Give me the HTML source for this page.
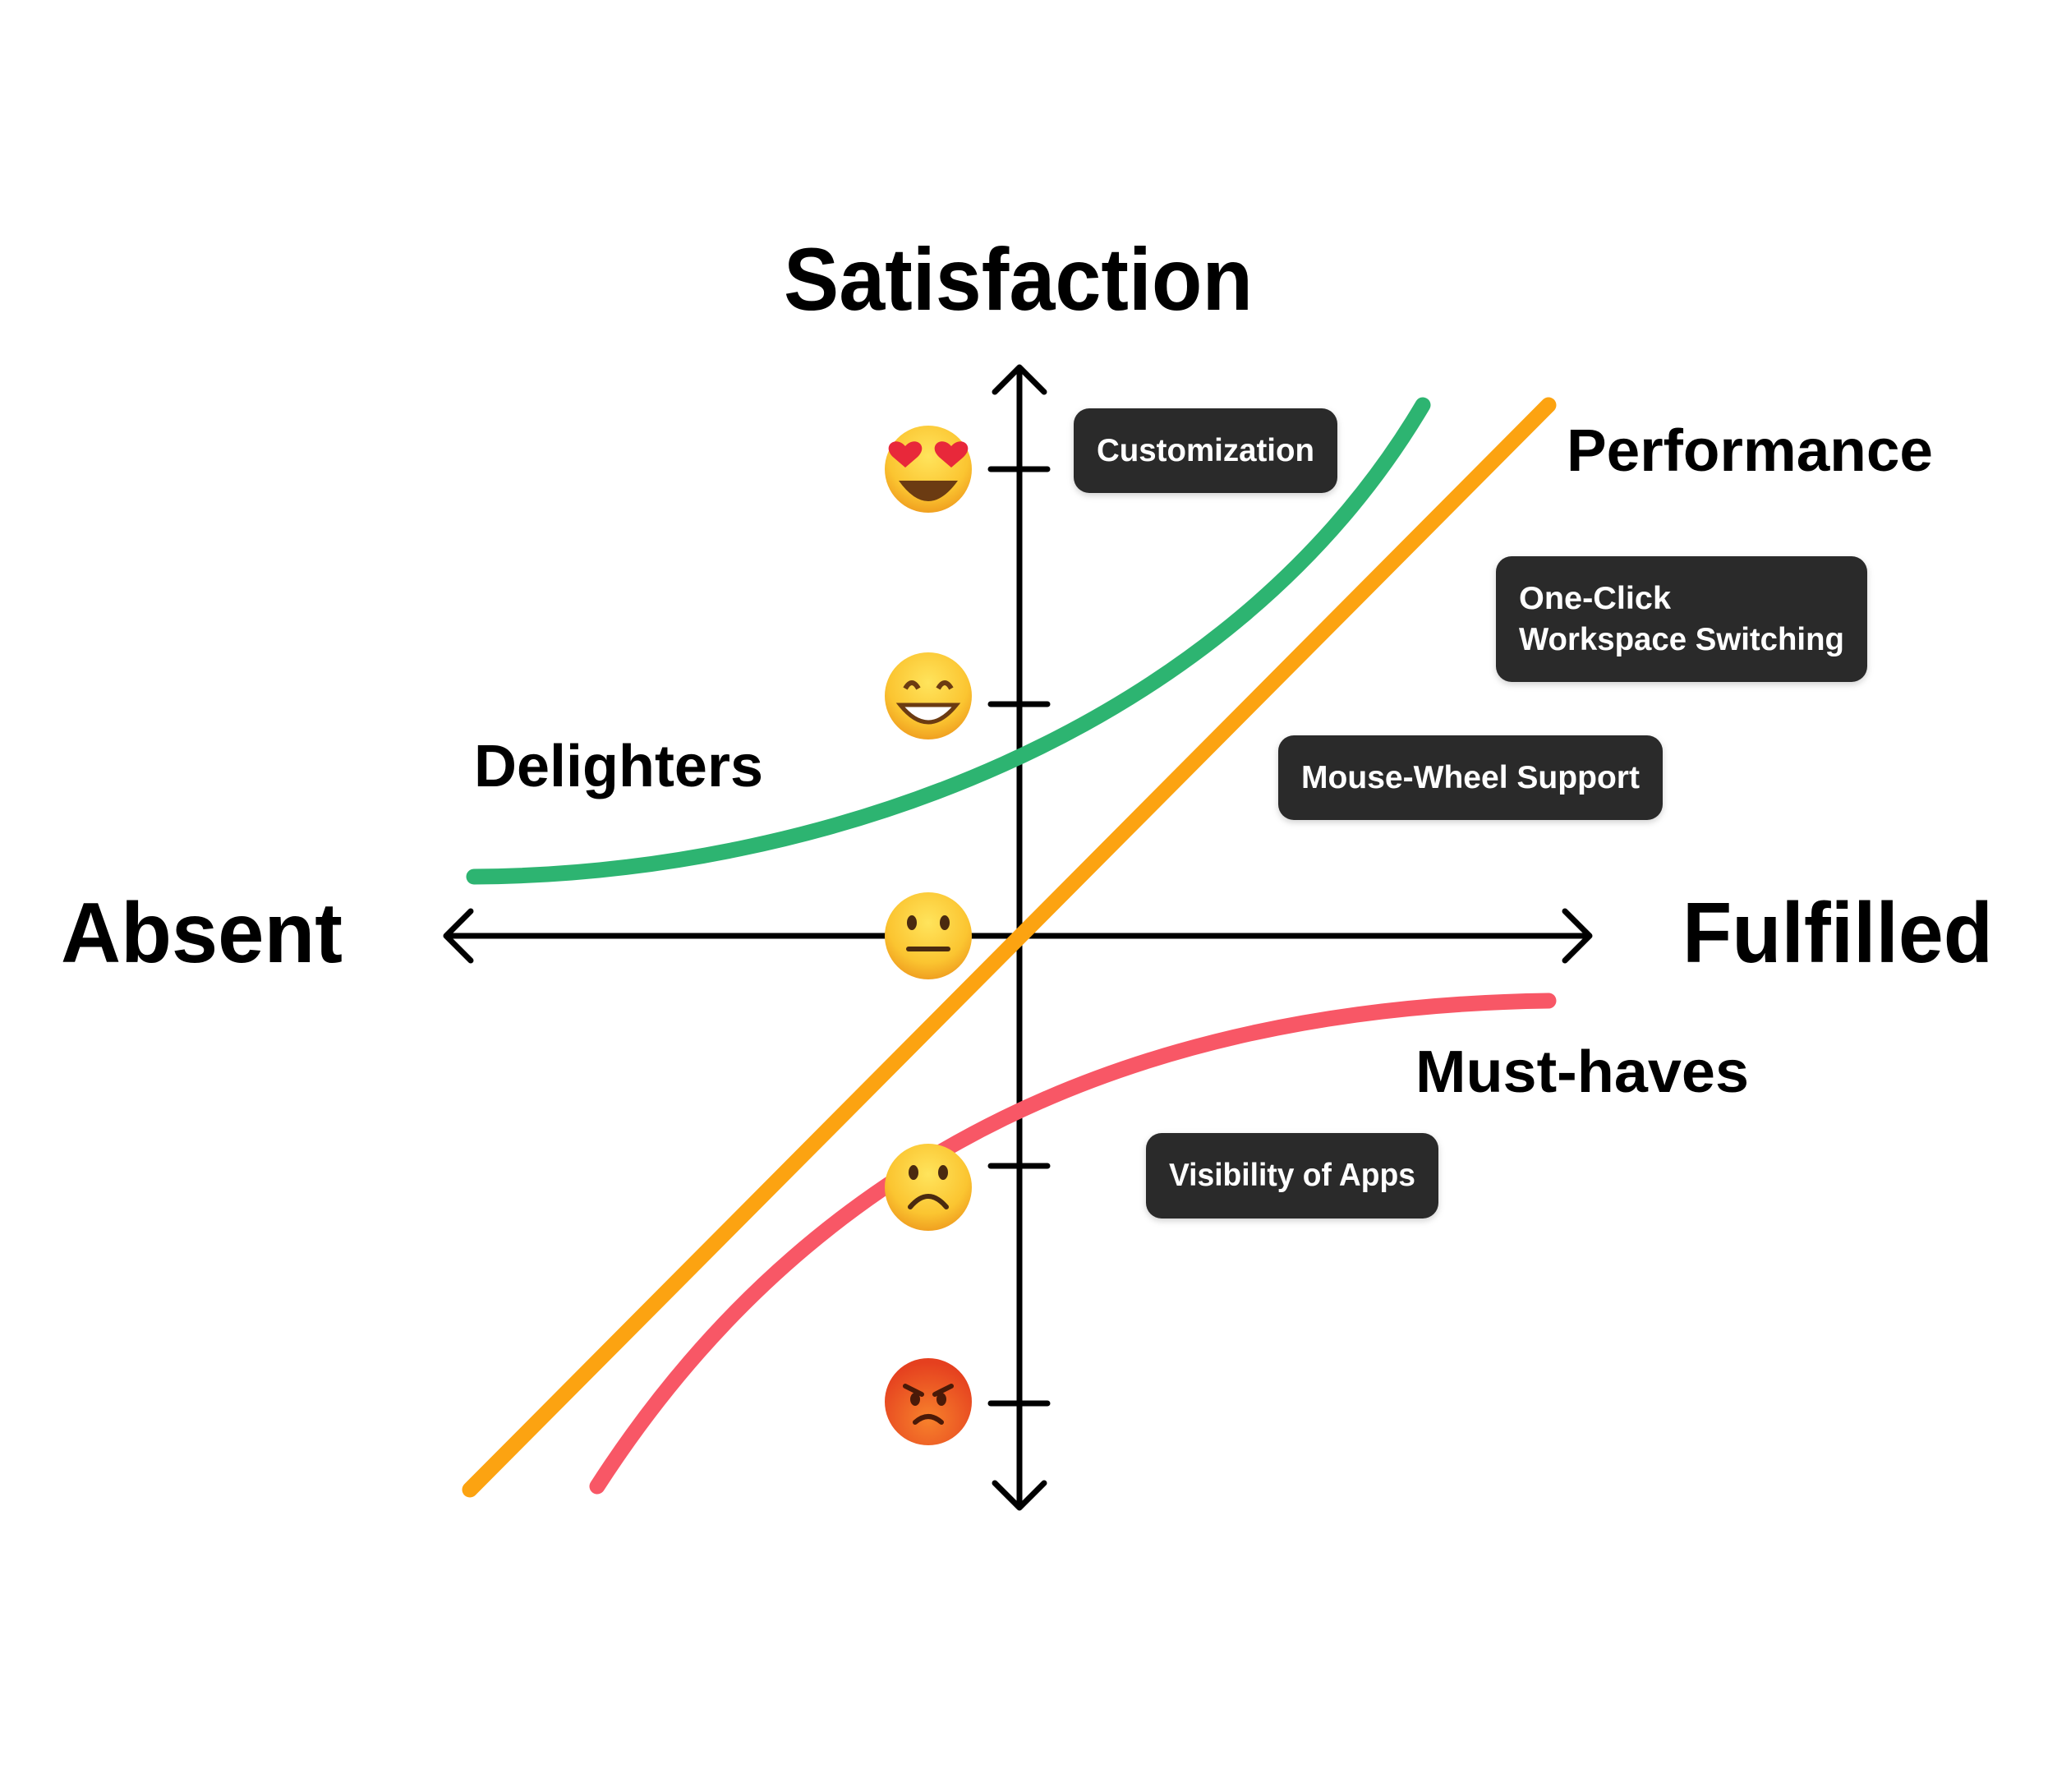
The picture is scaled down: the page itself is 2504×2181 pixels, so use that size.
<!DOCTYPE html>
<html><head><meta charset="utf-8"><style>
html,body{margin:0;padding:0;background:#fff}
svg{display:block}
text{font-family:"Liberation Sans",sans-serif;font-weight:bold}
</style></head><body>
<svg width="2504" height="2181" viewBox="0 0 2504 2181" xmlns="http://www.w3.org/2000/svg">
<defs>
<radialGradient id="yg" cx="50%" cy="35%" r="65%"><stop offset="0" stop-color="#ffe45c"/><stop offset="0.7" stop-color="#fbc531"/><stop offset="1" stop-color="#f0a020"/></radialGradient>
<radialGradient id="rg" cx="50%" cy="70%" r="65%"><stop offset="0" stop-color="#f7822c"/><stop offset="1" stop-color="#e5401f"/></radialGradient>
<filter id="sh" x="-10%" y="-10%" width="120%" height="130%"><feDropShadow dx="0" dy="3" stdDeviation="4" flood-color="#000" flood-opacity="0.18"/></filter>
</defs>
<rect width="2504" height="2181" fill="#fff"/>
<g transform="translate(-6,-5)">
<g stroke="#000" stroke-width="7" fill="none" stroke-linecap="round" stroke-linejoin="round">
<line x1="1247" y1="456" x2="1247" y2="1836"/>
<polyline points="1217,482 1247,452 1277,482"/>
<polyline points="1217,1810 1247,1840 1277,1810"/>
<line x1="553" y1="1144" x2="1937" y2="1144"/>
<polyline points="579,1114 549,1144 579,1174"/>
<polyline points="1911,1114 1941,1144 1911,1174"/>
<line x1="1212" y1="576" x2="1281" y2="576"/>
<line x1="1212" y1="862" x2="1281" y2="862"/>
<line x1="1212" y1="1424" x2="1281" y2="1424"/>
<line x1="1212" y1="1713" x2="1281" y2="1713"/>
</g>
<g fill="none" stroke-width="19" stroke-linecap="round">
<path d="M733 1814 C1000 1400 1400 1230 1891 1223" stroke="#f85766"/>
<path d="M578 1818 L1891 498" stroke="#fca311"/>
<path d="M583 1072 C1000 1070 1500 900 1738 498" stroke="#2db471"/>
</g>
<g>
<circle cx="1136" cy="576" r="53" fill="url(#yg)"/>
<path d="M1100 590 Q1136 640 1172 590 Z" fill="#6b3b12"/>
<path d="M1108 548 c-12 -14 -30 0 -14 14 l14 12 14 -12 c16 -14 -2 -28 -14 -14z" fill="#e8283a"/>
<path d="M1164 548 c-12 -14 -30 0 -14 14 l14 12 14 -12 c16 -14 -2 -28 -14 -14z" fill="#e8283a"/>
<circle cx="1136" cy="852" r="53" fill="url(#yg)"/>
<path d="M1102 863 Q1136 905 1170 863 Z" fill="#fff" stroke="#6b3b12" stroke-width="5"/>
<path d="M1108 843 q8 -14 16 0 M1148 843 q8 -14 16 0" stroke="#6b3b12" stroke-width="6" fill="none"/>
<circle cx="1136" cy="1144" r="53" fill="url(#yg)"/>
<ellipse cx="1116" cy="1128" rx="6" ry="9" fill="#4a2a10"/><ellipse cx="1156" cy="1128" rx="6" ry="9" fill="#4a2a10"/>
<line x1="1112" y1="1160" x2="1160" y2="1160" stroke="#4a2a10" stroke-width="6" stroke-linecap="round"/>
<circle cx="1136" cy="1450" r="53" fill="url(#yg)"/>
<ellipse cx="1118" cy="1432" rx="6" ry="9" fill="#4a2a10"/><ellipse cx="1154" cy="1432" rx="6" ry="9" fill="#4a2a10"/>
<path d="M1114 1474 q22 -26 44 0" stroke="#4a2a10" stroke-width="6" fill="none" stroke-linecap="round"/>
<circle cx="1136" cy="1711" r="53" fill="url(#rg)"/>
<path d="M1108 1692 l20 10 M1164 1692 l-20 10" stroke="#4a1a08" stroke-width="6" stroke-linecap="round"/>
<ellipse cx="1120" cy="1708" rx="6" ry="8" fill="#4a1a08"/><ellipse cx="1152" cy="1708" rx="6" ry="8" fill="#4a1a08"/>
<path d="M1120 1736 q16 -14 32 0" stroke="#4a1a08" stroke-width="6" fill="none" stroke-linecap="round"/>
</g>
<text x="960" y="382" font-size="108" textLength="571" lengthAdjust="spacingAndGlyphs">Satisfaction</text>
<text x="80" y="1176" font-size="104" textLength="343" lengthAdjust="spacingAndGlyphs">Absent</text>
<text x="2054" y="1176" font-size="104" textLength="378" lengthAdjust="spacingAndGlyphs">Fulfilled</text>
<text x="1913" y="578" font-size="72" textLength="446" lengthAdjust="spacingAndGlyphs">Performance</text>
<text x="583" y="962" font-size="72" textLength="352" lengthAdjust="spacingAndGlyphs">Delighters</text>
<text x="1729" y="1334" font-size="72" textLength="406" lengthAdjust="spacingAndGlyphs">Must-haves</text>
<g filter="url(#sh)" fill="#2a2a2a">
<rect x="1313" y="502" width="321" height="103" rx="19"/>
<rect x="1827" y="682" width="452" height="153" rx="19"/>
<rect x="1562" y="900" width="468" height="103" rx="19"/>
<rect x="1401" y="1384" width="356" height="104" rx="19"/>
</g>
<g fill="#fff" font-size="39">
<text x="1341" y="566" textLength="265" lengthAdjust="spacingAndGlyphs">Customization</text>
<text x="1855" y="746" textLength="185" lengthAdjust="spacingAndGlyphs">One-Click</text>
<text x="1855" y="796" textLength="396" lengthAdjust="spacingAndGlyphs">Workspace Switching</text>
<text x="1590" y="964" textLength="412" lengthAdjust="spacingAndGlyphs">Mouse-Wheel Support</text>
<text x="1429" y="1448" textLength="300" lengthAdjust="spacingAndGlyphs">Visibility of Apps</text>
</g>
</g>
</svg>
</body></html>
